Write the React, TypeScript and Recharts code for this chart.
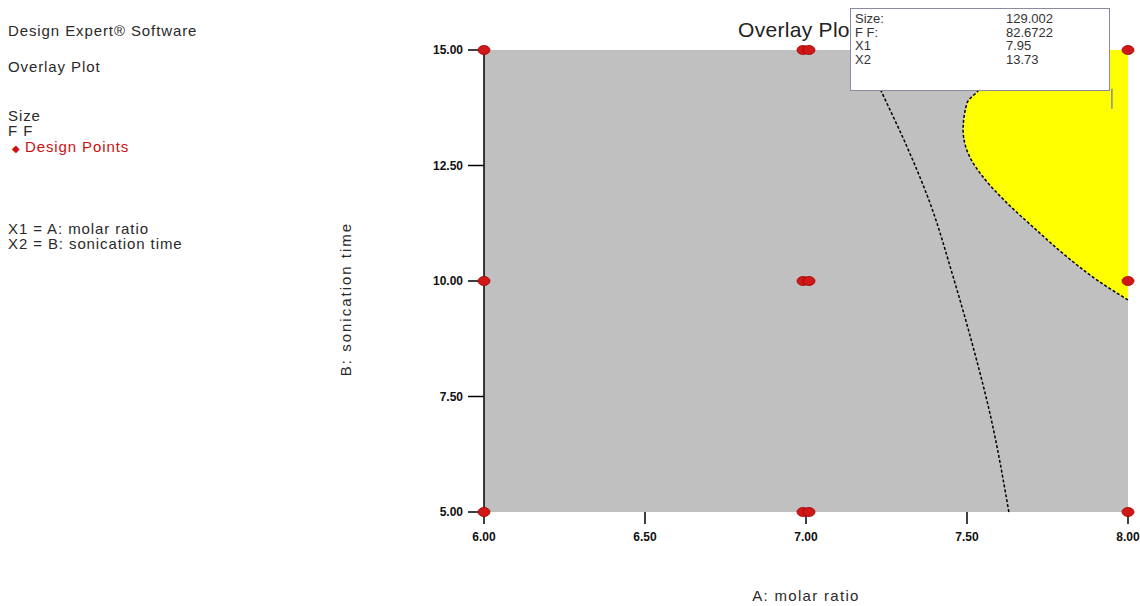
import React from 'react';
import {
  ComposedChart, XAxis, YAxis, Area, Line, Scatter, CartesianGrid, ReferenceLine,
} from 'recharts';

// Axis ticks
const xTicks = [6, 6.5, 7, 7.5, 8];
const yTicks = [5, 7.5, 10, 12.5, 15];

// Design points (A: molar ratio, B: sonication time, replicate count)
const designX = [6, 7, 8, 6, 7, 8, 6, 7, 8];
const designY = [15, 15, 15, 10, 10, 10, 5, 5, 5];
const designReps = [1, 2, 1, 1, 2, 1, 1, 2, 1];

// Dashed contour line (boundary of one criterion)
const contourY = [5.0, 7.14, 8.57, 10.09, 11.69, 12.9, 14.03, 15.0];
const contourX = [7.63, 7.571, 7.519, 7.457, 7.385, 7.314, 7.239, 7.175];

// Yellow (feasible) region left boundary, as x for each y
const regionY = [9.59, 10.02, 10.52, 11.17, 11.69, 12.25, 12.68, 13.27, 13.85, 14.09, 14.5, 15.0];
const regionX = [8.0, 7.904, 7.811, 7.705, 7.624, 7.55, 7.509, 7.488, 7.5, 7.531, 7.6, 7.72];

// Flag annotation
const flagLabels = ['Size:', 'F F:', 'X1', 'X2'];
const flagValues = ['129.002', '82.6722', '7.95', '13.73'];
const flagPoint = { x: 7.95, y: 13.73 };
const flagTopY = 14.16;

const leftText = ['Design Expert\u00ae Software', 'Overlay Plot', 'Size', 'F F', 'Design Points', 'X1 = A: molar ratio', 'X2 = B: sonication time'];

const designData = designX.map((x, i) => ({ x, y: designY[i], reps: designReps[i] }));
const contourData = contourY.map((y, i) => ({ x: contourX[i], y }));
const regionData = regionY.map((y, i) => ({ x: regionX[i], y }));

const DesignShape = (props: any) => {
  const { cx, cy, payload } = props;
  if (cx == null || cy == null) return null;
  const reps = payload?.reps ?? 1;
  const offs = reps === 2 ? [-3, 3] : [0];
  return (
    <g>
      {offs.map((o, i) => (
        <ellipse key={i} cx={cx + o} cy={cy} rx={6} ry={4.5} fill="#d01818" stroke="#a00000" strokeWidth={0.8} />
      ))}
    </g>
  );
};

const FONT = '"Liberation Sans", Arial, sans-serif';

export default function App() {
  const txt: React.CSSProperties = { position: 'absolute', fontFamily: FONT, color: '#2a2a2a', fontSize: 15, whiteSpace: 'nowrap', letterSpacing: 0.9, lineHeight: '17px' };
  return (
    <div style={{ position: 'absolute', left: 0, top: 0, width: 1140, height: 606, background: '#fff', overflow: 'hidden' }}>
      <ComposedChart
        width={1140}
        height={606}
        layout="vertical"
        margin={{ top: 50, right: 12, bottom: 64, left: 424 }}
      >
        <CartesianGrid horizontal={false} vertical={false} fill="#c0c0c0" stroke="none" />
        <XAxis
          type="number"
          dataKey="x"
          domain={[6, 8]}
          ticks={xTicks}
          height={30}
          axisLine={false}
          tickSize={12}
          tickMargin={8}
          tickLine={{ stroke: '#000', strokeWidth: 1.5 }}
          tickFormatter={(v: number) => v.toFixed(2)}
          tick={{ fill: '#111', fontSize: 12, fontWeight: 'bold', fontFamily: FONT }}
        />
        <YAxis
          type="number"
          dataKey="y"
          domain={[5, 15]}
          ticks={yTicks}
          reversed
          width={60}
          axisLine={{ stroke: '#000', strokeWidth: 1.5 }}
          tickSize={16}
          tickMargin={5}
          tickLine={{ stroke: '#000', strokeWidth: 1.5 }}
          tickFormatter={(v: number) => v.toFixed(2)}
          tick={{ fill: '#111', fontSize: 12, fontWeight: 'bold', fontFamily: FONT }}
        />
        <Area
          data={regionData}
          dataKey="x"
          type="monotone"
          baseValue="dataMax"
          fill="#ffff00"
          fillOpacity={1}
          stroke="#000"
          strokeWidth={1.5}
          strokeDasharray="3 2"
          isAnimationActive={false}
          dot={false}
          activeDot={false}
        />
        <Line
          data={contourData}
          dataKey="x"
          type="monotone"
          stroke="#000"
          strokeWidth={1.5}
          strokeDasharray="3 2"
          dot={false}
          activeDot={false}
          isAnimationActive={false}
        />
        <ReferenceLine
          segment={[flagPoint, { x: flagPoint.x, y: flagTopY }]}
          stroke="#8a8aa0"
          strokeWidth={1.5}
          ifOverflow="visible"
        />
        <Scatter data={designData} shape={DesignShape} isAnimationActive={false} />
      </ComposedChart>

      {/* left info panel */}
      <div style={{ ...txt, left: 8, top: 22 }}>{leftText[0]}</div>
      <div style={{ ...txt, left: 8, top: 58 }}>{leftText[1]}</div>
      <div style={{ ...txt, left: 8, top: 107 }}>{leftText[2]}</div>
      <div style={{ ...txt, left: 8, top: 122 }}>{leftText[3]}</div>
      <div style={{ ...txt, left: 12, top: 138, color: '#cc1010' }}>
        <span style={{ fontSize: 10, marginRight: 4 }}>{'\u25C6'}</span>{leftText[4]}
      </div>
      <div style={{ ...txt, left: 8, top: 220 }}>{leftText[5]}</div>
      <div style={{ ...txt, left: 8, top: 235 }}>{leftText[6]}</div>

      {/* title */}
      <div style={{ ...txt, left: 738, top: 18, fontSize: 21, lineHeight: '24px', letterSpacing: 0.3, color: '#222' }}>Overlay Plot</div>

      {/* axis titles */}
      <div style={{ ...txt, left: 806, top: 587, transform: 'translateX(-50%)', fontSize: 15, letterSpacing: 1.3 }}>A: molar ratio</div>
      <div style={{ ...txt, left: 345, top: 299, transform: 'translate(-50%, -50%) rotate(-90deg)', fontSize: 15, letterSpacing: 2 }}>B: sonication time</div>

      {/* flag box */}
      <div style={{ position: 'absolute', left: 850, top: 8, width: 258, height: 78, background: '#fff', border: '1.5px solid #8a8aa0', fontFamily: FONT, fontSize: 13, color: '#333', lineHeight: '13.5px', paddingTop: 3 }}>
        {flagLabels.map((l, i) => (
          <div key={i} style={{ position: 'relative', height: 13.5 }}>
            <span style={{ position: 'absolute', left: 4 }}>{l}</span>
            <span style={{ position: 'absolute', left: 155 }}>{flagValues[i]}</span>
          </div>
        ))}
      </div>
    </div>
  );
}
